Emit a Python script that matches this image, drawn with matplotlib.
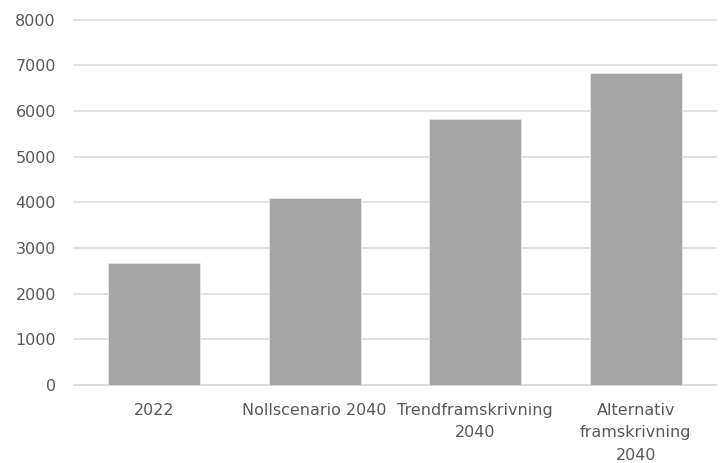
import matplotlib
matplotlib.use('Agg')
import matplotlib.pyplot as plt

categories = ['2022', 'Nollscenario 2040', 'Trendframskrivning\n2040',
              'Alternativ\nframskrivning\n2040']
values = [2680, 4090, 5815, 6835]
yticks = [0, 1000, 2000, 3000, 4000, 5000, 6000, 7000, 8000]

text_color = '#595959'
plt.rcParams['font.family'] = ['DejaVu Sans']

fig = plt.figure(figsize=(7.2, 4.63), dpi=100)
ax = fig.add_axes([0.1028, 0.1685, 0.8916, 0.7890])

x = range(len(categories))
ax.bar(x, values, width=0.575, color='#A5A5A5', edgecolor='#E8E8E8',
       linewidth=0.6, zorder=3)

ax.set_ylim(0, 8000)
ax.set_xlim(-0.5, len(categories) - 0.5)
ax.set_yticks(yticks)
ax.set_xticks(list(x))
ax.set_xticklabels(categories, multialignment='center', linespacing=1.62)

ax.yaxis.grid(True, color='#D9D9D9', linewidth=1.1, zorder=0)
for gl in ax.get_ygridlines():
    gl.set_clip_on(False)
ax.set_axisbelow(True)
for s in ['top', 'right', 'left']:
    ax.spines[s].set_visible(False)
ax.spines['bottom'].set_color('#D9D9D9')
ax.spines['bottom'].set_linewidth(1.1)

ax.tick_params(axis='both', length=0, colors=text_color, labelsize=11.5)
ax.tick_params(axis='y', pad=13)
ax.tick_params(axis='x', pad=13)

fig.savefig('out.png', dpi=100)
